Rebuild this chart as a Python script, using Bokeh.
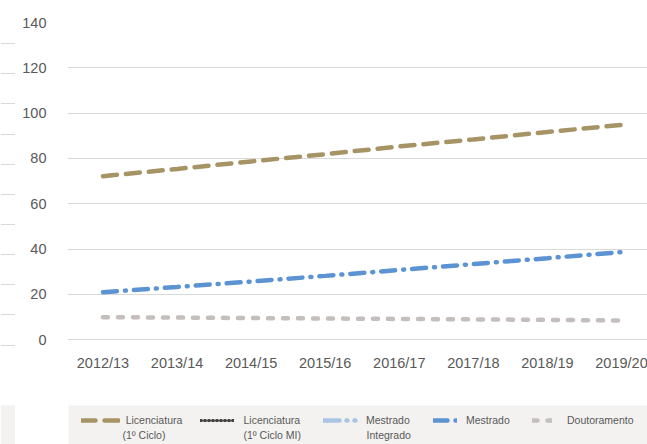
from bokeh.plotting import figure
from bokeh.layouts import row
from bokeh.models import (Range1d, FixedTicker, Legend, LegendItem, BoxAnnotation, ColumnDataSource, Label)
from bokeh.core.properties import value
from bokeh.embed import file_html
from bokeh.resources import INLINE
import math

years = ["2012/13", "2013/14", "2014/15", "2015/16", "2016/17", "2017/18", "2018/19", "2019/20"]
lic_1ciclo = [72.2, 75.4, 78.7, 81.9, 85.3, 88.4, 91.7, 94.8]
lic_mi = [math.nan] * 8
mestrado_int = [math.nan] * 8
mestrado = [21.0, 23.3, 25.7, 28.2, 30.8, 33.4, 36.0, 38.7]
doutoramento = [10.0, 9.8, 9.6, 9.4, 9.2, 9.0, 8.8, 8.5]
y_ticks = [0, 20, 40, 60, 80, 100, 120, 140]
# gridlines of the neighbouring (cropped) chart at the far left
side_ticks = [0, 1, 2, 3, 4, 5, 6, 7, 8, 9, 10]

FONT = "Liberation Sans"
GRID = "#d9d9d9"
LEG_BG = "#f3f2f0"
idx = list(range(len(years)))

# --- cropped neighbour strip ---
s = figure(width=15, height=444, output_backend="svg", toolbar_location=None,
           x_range=Range1d(0, 1), y_range=Range1d(-3.30, 10.70),
           x_axis_location=None, y_axis_location=None,
           min_border_left=0, min_border_right=0, min_border_top=0, min_border_bottom=0)
s.outline_line_color = None
s.xgrid.grid_line_color = None
s.ygrid.ticker = FixedTicker(ticks=side_ticks)
s.ygrid.grid_line_color = GRID
s.add_layout(BoxAnnotation(left=0, right=15, top=405, bottom=500,
                           left_units="canvas", right_units="canvas", top_units="canvas", bottom_units="canvas",
                           fill_color=LEG_BG, fill_alpha=1, line_color=None, level="underlay"))

# --- main chart ---
p = figure(width=632, height=444, output_backend="svg", toolbar_location=None,
           x_range=Range1d(-0.479, 7.351), y_range=Range1d(-46.2, 140),
           x_axis_location=None,
           min_border_left=52, min_border_right=0, min_border_top=22, min_border_bottom=0)
p.outline_line_color = None
p.background_fill_color = "white"
p.border_fill_color = "white"

p.xgrid.grid_line_color = None
p.ygrid.grid_line_color = GRID
p.ygrid.grid_line_width = 1
p.yaxis.ticker = FixedTicker(ticks=y_ticks)
p.yaxis.axis_line_color = None
p.yaxis.major_tick_line_color = None
p.yaxis.minor_tick_line_color = None
p.yaxis.major_label_standoff = 15
p.yaxis.major_label_text_font = FONT
p.yaxis.major_label_text_font_size = "14.5px"
p.yaxis.major_label_text_color = "#595959"

src = ColumnDataSource(dict(x=idx, lab=years, zero=[0] * len(idx), lic=lic_1ciclo, lmi=lic_mi,
                            mi=mestrado_int, m=mestrado, d=doutoramento))

p.add_layout(BoxAnnotation(left=53, right=700, top=405, bottom=500,
                           left_units="canvas", right_units="canvas", top_units="canvas", bottom_units="canvas",
                           fill_color=LEG_BG, fill_alpha=1, line_color=None, level="underlay"))

p.text("x", "zero", text="lab", source=src, text_align="center", text_baseline="top", y_offset=15,
       text_font=value(FONT), text_font_size="14.5px", text_color="#595959")

r_lic = p.line("x", "lic", source=src, line_color="#A69465", line_width=4.5, line_dash="14 9", line_cap="round")
r_lmi = p.line("x", "lmi", source=src, line_color="#404040", line_width=3, line_dash="1 3", line_cap="round")
r_mi = p.line("x", "mi", source=src, line_color="#A9C4E4", line_width=4.5, line_dash="16 7 1 7 1 7", line_cap="round")
r_m = p.line("x", "m", source=src, line_color="#5B93D3", line_width=4.5, line_dash="14 8 1 8", line_cap="round")
r_d = p.line("x", "d", source=src, line_color="#C4BEBC", line_width=4.5, line_dash="5 10", line_cap="round")

# (first line, second line, renderer, legend x offset from frame, glyph width, standoff, second-line canvas x)
items = [
    ("Licenciatura", "(1º Ciclo)", r_lic, 13.7, 39, 6, 107),
    ("Licenciatura", "(1º Ciclo MI)", r_lmi, 132.5, 34, 10, 228),
    ("Mestrado", "Integrado", r_mi, 256, 35, 8, 351),
    ("Mestrado", None, r_m, 366, 24, 9, None),
    ("Doutoramento", None, r_d, 465, 20, 15, None),
]
for l1, l2, r, x, gw, st, x2 in items:
    lg = Legend(items=[LegendItem(label=l1, renderers=[r])], location=(x, 17.5),
                orientation="horizontal", glyph_width=gw, label_standoff=st,
                padding=0, margin=0, spacing=0, border_line_color=None,
                background_fill_alpha=0, label_text_font=FONT, label_text_font_size="10.5px",
                label_text_color="#595959", label_height=14, glyph_height=14)
    p.add_layout(lg, "center")
    if l2:
        p.add_layout(Label(x=x2, y=434, x_units="canvas", y_units="canvas", text=l2,
                           text_font=FONT, text_font_size="10.5px", text_color="#595959",
                           text_baseline="middle", text_align="left"))

layout = row(s, p, spacing=0)
open("out.html", "w").write(file_html(layout, INLINE))
